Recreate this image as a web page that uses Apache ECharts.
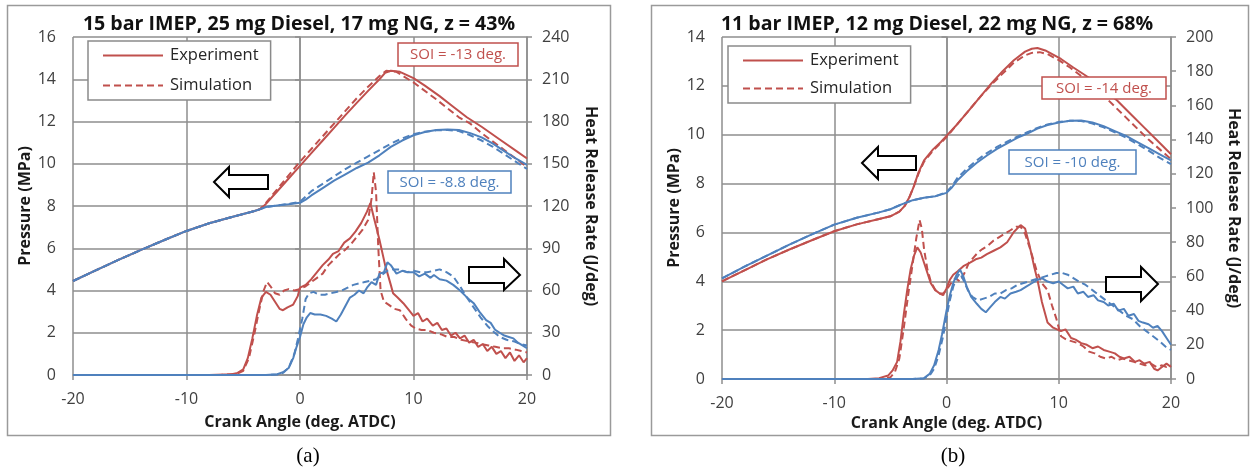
<!DOCTYPE html>
<html>
<head>
<meta charset="utf-8">
<script src="https://cdn.jsdelivr.net/npm/echarts@6/dist/echarts.min.js"></script>
<style>
  html, body { margin: 0; padding: 0; background: #ffffff; }
  #chart { width: 1250px; height: 471px; }
</style>
</head>
<body>
<div id="chart"></div>
<script>
// ---- Panel (a): 15 bar IMEP, 25 mg Diesel, 17 mg NG, z = 43% ----
// Cylinder pressure (MPa) vs crank angle (deg. ATDC)
const aPresExpEarly = [[-20,4.45],[-18,4.95],[-16,5.45],[-14,5.92],[-12,6.38],[-10,6.82],[-8,7.18],[-6,7.48],[-5,7.62],[-4,7.76],[-3.5,7.85],[-3,8.1],[-2,8.7],[-1,9.3],[0,9.9],[1,10.5],[2,11.1],[3,11.7],[4,12.3],[5,12.88],[6,13.45],[7,14.0],[7.5,14.3],[8,14.4],[8.8,14.35],[10,14.05],[11,13.7],[12.3,13.2],[13.5,12.7],[14.7,12.2],[16,11.75],[17.6,11.15],[19.2,10.55],[20,10.25]];
const aPresSimEarly = [[-20,4.45],[-18,4.95],[-16,5.45],[-14,5.92],[-12,6.38],[-10,6.82],[-8,7.18],[-6,7.48],[-5,7.62],[-4,7.76],[-3.5,7.86],[-3,8.15],[-2,8.8],[-1,9.45],[0,10.1],[1,10.7],[2,11.3],[3,11.9],[4,12.5],[5,13.1],[6,13.65],[7,14.15],[7.6,14.4],[8.5,14.35],[10,13.85],[12,13.05],[14,12.2],[15,11.9],[16,11.45],[18,10.65],[20,9.85]];
const aPresExpLate = [[-20,4.45],[-18,4.95],[-16,5.45],[-14,5.92],[-12,6.38],[-10,6.82],[-8,7.18],[-6,7.48],[-5,7.62],[-4,7.76],[-3.5,7.85],[-3,7.95],[-2,8.02],[-1,8.08],[0,8.15],[0.5,8.3],[1,8.5],[2,8.85],[3,9.2],[4,9.5],[5,9.8],[6,10.05],[7,10.4],[8,10.8],[9,11.1],[10,11.35],[11,11.5],[12,11.6],[13,11.62],[14,11.6],[15,11.45],[16,11.25],[17,10.95],[18,10.6],[19,10.25],[20,9.95]];
const aPresSimLate = [[-20,4.45],[-18,4.95],[-16,5.45],[-14,5.92],[-12,6.38],[-10,6.82],[-8,7.18],[-6,7.48],[-5,7.62],[-4,7.76],[-3.5,7.85],[-3,7.95],[-2,8.03],[-1,8.1],[0,8.2],[0.5,8.45],[1,8.7],[2,9.05],[3,9.4],[4,9.75],[5,10.05],[6,10.35],[7,10.65],[8,10.95],[9,11.2],[10,11.4],[11,11.52],[12,11.58],[13,11.6],[14,11.55],[15,11.35],[16,11.1],[17,10.8],[18,10.45],[19,10.1],[20,9.75]];
// Heat release rate (J/deg)
const aHrrExpEarly = [[-20,0],[-8,0],[-6,0.5],[-5.5,1.5],[-5,4],[-4.6,12],[-4.2,26],[-3.8,42],[-3.4,55],[-3.0,59],[-2.6,57],[-2.2,52],[-1.8,47],[-1.5,46],[-1.1,48],[-0.6,50],[-0.2,56],[0,62],[0.5,64],[1,68],[1.5,73],[2,78],[2.5,82],[2.9,86],[3.4,88],[3.9,94],[4.4,97],[4.9,102],[5.4,108],[5.9,116],[6.2,122],[6.5,112],[7.0,96],[7.5,78],[8.0,64],[8.2,58],[8.6,55],[9.1,51],[9.6,46],[10.0,42],[10.4,44],[10.8,38],[11.2,40],[11.7,35],[12.1,37],[12.5,32],[12.9,33],[13.3,28],[13.7,30],[14.1,26],[14.5,28],[14.9,23],[15.3,25],[15.7,20],[16.1,22],[16.5,17],[16.9,20],[17.3,15],[17.7,17],[18.1,12],[18.5,16],[18.9,10],[19.3,14],[19.7,9],[20,12]];
const aHrrSimEarly = [[-20,0],[-7,0],[-5.5,1],[-5,3],[-4.5,12],[-4,30],[-3.6,46],[-3.2,60],[-2.9,66],[-2.6,63],[-2.2,58],[-1.8,57],[-1.4,60],[-1,61],[-0.5,60],[0,61],[0.5,63],[1,66],[1.5,69],[2,72],[2.5,78],[3,82],[3.5,86],[4,89],[4.5,93],[5,98],[5.5,103],[6,110],[6.3,125],[6.5,144],[6.7,130],[6.9,90],[7.1,60],[7.4,52],[7.8,50],[8.3,47],[8.8,46],[9.3,40],[9.8,35],[10.2,33],[10.7,32],[11.2,32],[11.8,30],[12.4,29],[13,27],[13.6,27],[14.2,25],[14.8,24],[15.4,23],[16,22],[16.6,21],[17.2,20],[17.8,19],[18.4,19],[19,18],[19.5,17],[20,16]];
const aHrrExpLate = [[-20,0],[-3,0],[-2,0.5],[-1.5,2],[-1,5],[-0.6,12],[-0.3,20],[0,27],[0.3,36],[0.6,41],[0.9,44],[1.3,43],[1.8,43],[2.3,42],[2.8,40],[3.2,38],[3.6,43],[4,49],[4.4,55],[4.8,57],[5.2,60],[5.6,58],[5.9,62],[6.3,66],[6.7,64],[7.0,72],[7.4,73],[7.7,80],[8.0,78],[8.5,72],[9.0,74],[9.5,73],[10,73],[10.5,70],[11,72],[11.5,69],[11.8,71],[12.3,68],[12.9,67],[13.5,64],[14.1,60],[14.6,56],[15.0,53],[15.3,51],[15.8,45],[16.4,39],[16.8,37],[17.2,32],[17.6,30],[18.0,28],[18.4,27],[18.8,26],[19.2,23],[19.6,21],[20,19]];
const aHrrSimLate = [[-20,0],[-3,0],[-2,0.3],[-1.5,1.5],[-1,5],[-0.5,15],[-0.2,25],[0.2,40],[0.5,54],[0.8,58],[1.2,59],[1.7,57],[2.2,57],[2.7,58],[3.2,59],[3.7,60],[4.2,62],[4.7,64],[5.2,65],[5.7,66],[6.2,67],[6.7,68],[7.2,71],[7.7,74],[8.2,75],[8.8,75],[9.4,73],[10,74],[10.6,73],[11.2,73],[11.8,74],[12.3,75],[12.9,73],[13.5,70],[14.1,63],[14.7,55],[15.3,48],[15.9,41],[16.5,35],[17,31],[17.6,27],[18.2,25],[18.8,24],[19.4,22],[20,21]];

// ---- Panel (b): 11 bar IMEP, 12 mg Diesel, 22 mg NG, z = 68% ----
const bPresExpEarly = [[-20,4.0],[-18,4.45],[-16,4.9],[-14,5.3],[-12,5.68],[-10,6.05],[-8,6.33],[-6,6.55],[-5,6.66],[-4.2,6.85],[-3.7,7.1],[-3.3,7.45],[-2.9,7.9],[-2.5,8.45],[-2,8.95],[-1.2,9.4],[-0.5,9.7],[0,9.95],[1,10.45],[2,11.0],[3,11.55],[4,12.1],[5,12.6],[6,13.05],[7,13.4],[7.6,13.52],[8.1,13.55],[8.8,13.45],[9.5,13.28],[10.2,13.1],[11.3,12.75],[12.8,12.3],[14,11.85],[15.2,11.4],[16.4,10.85],[17.6,10.3],[18.8,9.75],[20,9.2]];
const bPresSimEarly = [[-20,4.0],[-18,4.45],[-16,4.9],[-14,5.3],[-12,5.68],[-10,6.05],[-8,6.33],[-6,6.55],[-5,6.66],[-4.2,6.85],[-3.7,7.1],[-3.3,7.45],[-2.9,7.9],[-2.5,8.4],[-2,8.9],[-1.2,9.35],[0,9.9],[1,10.45],[2,11.0],[3,11.55],[4,12.05],[5,12.5],[6,12.95],[7,13.25],[7.6,13.35],[8.3,13.38],[9,13.3],[10,13.05],[11,12.75],[12,12.4],[13,12.0],[14,11.6],[15,11.15],[16,10.7],[17,10.25],[18,9.8],[19,9.4],[20,9.0]];
const bPresExpLate = [[-20,4.12],[-18,4.6],[-16,5.05],[-14,5.5],[-12,5.92],[-10,6.32],[-8,6.6],[-6,6.82],[-5,6.95],[-4,7.15],[-3,7.32],[-2,7.42],[-1,7.48],[0,7.62],[0.5,7.85],[1,8.15],[1.8,8.5],[2.7,8.85],[3.6,9.15],[4.5,9.42],[5.4,9.65],[6.3,9.87],[7.2,10.05],[8.1,10.25],[9,10.4],[10,10.5],[11,10.57],[12,10.58],[13,10.5],[14,10.35],[15,10.15],[16,9.95],[17,9.7],[18,9.45],[19,9.2],[20,8.95]];
const bPresSimLate = [[-20,4.12],[-18,4.6],[-16,5.05],[-14,5.5],[-12,5.92],[-10,6.32],[-8,6.6],[-6,6.82],[-5,6.95],[-4,7.15],[-3,7.32],[-2,7.42],[-1,7.48],[0,7.65],[0.5,7.9],[1,8.25],[1.8,8.6],[2.7,8.95],[3.6,9.25],[4.5,9.5],[5.4,9.72],[6.3,9.92],[7.2,10.1],[8.1,10.28],[9,10.42],[10,10.52],[11,10.57],[12,10.56],[13,10.46],[14,10.3],[15,10.1],[16,9.88],[17,9.62],[18,9.35],[19,9.05],[20,8.8]];
const bHrrExpEarly = [[-20,0],[-7,0],[-6,0.5],[-5.2,2],[-4.8,5],[-4.4,10],[-4.1,22],[-3.8,38],[-3.5,52],[-3.2,64],[-2.9,72],[-2.6,77],[-2.3,74],[-2.0,68],[-1.7,62],[-1.4,56],[-1.0,52],[-0.6,50],[-0.3,49],[0,53],[0.3,58],[0.6,61],[1.0,63],[1.5,66],[2.1,68],[2.6,70],[3.1,71],[3.6,73],[4.2,75],[4.8,77],[5.4,80],[6.0,86],[6.6,90],[7.0,88],[7.4,78],[7.8,66],[8.1,58],[8.5,45],[9.0,33],[9.5,30],[10.2,28],[10.6,29],[11.1,24],[11.5,23],[12,21],[12.5,20],[13,18],[13.5,19],[14,17],[14.5,16],[15,15],[15.4,13],[15.8,12],[16.3,13],[16.8,10],[17.2,11],[17.6,9],[18.1,10],[18.5,6],[18.8,5],[19.2,7],[19.6,9],[20,7]];
const bHrrSimEarly = [[-20,0],[-6,0],[-5,1],[-4.6,4],[-4.2,12],[-3.8,30],[-3.4,50],[-3.0,68],[-2.7,82],[-2.4,93],[-2.2,88],[-2.0,76],[-1.7,64],[-1.4,57],[-1.0,52],[-0.6,50],[-0.3,50],[0,52],[0.4,56],[0.8,59],[1.2,57],[1.6,62],[2,68],[2.4,71],[2.8,74],[3.2,76],[3.7,78],[4.2,81],[4.7,83],[5.2,85],[5.7,87],[6.2,89],[6.6,89],[7.0,85],[7.5,75],[8.0,64],[8.5,56],[9.0,52],[9.4,43],[9.8,35],[10.2,25],[10.7,23],[11.2,22],[11.7,21],[12.2,19],[12.7,16],[13.2,15],[13.7,13],[14.2,12],[14.7,13],[15.2,11],[15.7,12],[16.2,11],[16.7,10],[17.2,9],[17.7,8],[18.2,9],[18.7,7],[19.2,8],[19.6,7],[20,8]];
const bHrrExpLate = [[-20,0],[-3,0],[-2,0.5],[-1.5,3],[-1.1,8],[-0.7,17],[-0.4,26],[0,40],[0.3,49],[0.6,56],[0.9,61],[1.2,64],[1.5,60],[1.8,54],[2.2,48],[2.7,44],[3.1,41],[3.5,39],[3.9,42],[4.3,45],[4.8,48],[5.2,47],[5.7,50],[6.2,51],[6.6,52],[7.1,54],[7.6,56],[8.1,58],[8.5,59],[9.0,57],[9.5,56],[10.0,57],[10.4,55],[10.8,53],[11.3,54],[11.7,50],[12.2,51],[12.6,48],[13.1,49],[13.5,46],[14.0,45],[14.4,43],[14.9,44],[15.3,40],[15.8,41],[16.2,37],[16.7,38],[17.1,34],[17.5,33],[18.0,32],[18.4,30],[18.8,31],[19.2,28],[19.6,24],[20,20]];
const bHrrSimLate = [[-20,0],[-3,0],[-2,0.3],[-1.5,2],[-1.1,6],[-0.7,14],[-0.3,25],[0,36],[0.3,46],[0.6,54],[0.9,59],[1.2,62],[1.5,58],[1.9,52],[2.3,48],[2.8,46],[3.3,47],[3.8,48],[4.3,50],[4.8,50],[5.3,52],[5.8,53],[6.3,55],[6.8,56],[7.3,57],[7.8,58],[8.3,59],[8.8,60],[9.3,61],[9.8,62],[10.3,62],[10.8,61],[11.3,59],[11.8,57],[12.4,55],[13,52],[13.6,49],[14.2,46],[14.8,43],[15.4,40],[16,37],[16.6,35],[17.2,31],[17.8,28],[18.4,25],[19,22],[19.5,19],[20,17]];

// Texts
const panelTitles = ['15 bar IMEP, 25 mg Diesel, 17 mg NG, z = 43%', '11 bar IMEP, 12 mg Diesel, 22 mg NG, z = 68%'];
const soiLabelsA = ['SOI = -13 deg.', 'SOI = -8.8 deg.'];
const soiLabelsB = ['SOI = -14 deg.', 'SOI = -10 deg.'];
const legendNames = ['Experiment', 'Simulation'];
const captions = ['(a)', '(b)'];
const xAxisName = 'Crank Angle (deg. ATDC)';
const yLeftName = 'Pressure (MPa)';
const yRightName = 'Heat Release Rate (J/deg)';

const RED = '#c0504d';
const BLUE = '#4f81bd';
const GRID = '#8e8e8e';
const FONT = '"Open Sans", "Noto Sans", sans-serif';
const TICK_TEXT = '#404040';

function lineSeries(name, data, color, dashed, xi, yi) {
  return {
    name: name, type: 'line', data: data,
    xAxisIndex: xi, yAxisIndex: yi,
    symbol: 'none', smooth: false, animation: false,
    lineStyle: { color: color, width: 2, type: dashed ? [7, 4] : 'solid' },
    itemStyle: { color: color }
  };
}

function xAxisFor(gridIndex, gap) {
  return {
    type: 'value', gridIndex: gridIndex, min: -20, max: 20, interval: 10,
    name: xAxisName, nameLocation: 'middle', nameGap: gap,
    nameTextStyle: { fontFamily: FONT, fontWeight: 'bold', fontSize: 16, color: '#1a1a1a' },
    axisLine: { show: true, onZero: false, lineStyle: { color: GRID, width: 1.5 } },
    axisTick: { show: true, length: 5, lineStyle: { color: GRID, width: 1.5 } },
    axisLabel: { fontFamily: FONT, fontSize: 16, color: TICK_TEXT, margin: 16 },
    splitLine: { show: true, lineStyle: { color: GRID, width: 1.5 } }
  };
}

function yAxisFor(gridIndex, pos, max, interval, name, gap, split) {
  return {
    type: 'value', gridIndex: gridIndex, position: pos, min: 0, max: max, interval: interval,
    name: name, nameLocation: 'middle', nameGap: gap, nameRotate: pos === 'left' ? 90 : -90,
    nameTextStyle: { fontFamily: FONT, fontWeight: 'bold', fontSize: 16, color: '#1a1a1a' },
    axisLine: { show: true, lineStyle: { color: GRID, width: 1.5 } },
    axisTick: { show: true, length: 5, lineStyle: { color: GRID, width: 1.5 } },
    axisLabel: { fontFamily: FONT, fontSize: 16, color: TICK_TEXT, margin: pos === 'left' ? 17 : 15 },
    splitLine: { show: split, lineStyle: { color: GRID, width: 1.5 } }
  };
}

function legendAt(left, top, gap) {
  return {
    data: legendNames, orient: 'vertical', left: left, top: top,
    itemWidth: 60, itemHeight: 14, itemGap: gap,
    padding: [6, 12, 6, 14],
    borderColor: '#8a8a8a', borderWidth: 1.5, backgroundColor: '#ffffff',
    selectedMode: false,
    itemStyle: { opacity: 0 },
    textStyle: { fontFamily: FONT, fontSize: 16.5, color: '#262626', padding: [0, 0, 0, 2] }
  };
}

function blockArrow(points) {
  return {
    type: 'polygon', shape: { points: points },
    style: { fill: '#ffffff', stroke: '#000000', lineWidth: 2 }, z: 50
  };
}

function soiBox(x, y, w, h, text, color) {
  return [
    { type: 'rect', shape: { x: x, y: y, width: w, height: h },
      style: { fill: '#ffffff', stroke: color, lineWidth: 1.5 }, z: 50 },
    { type: 'text', x: x + w / 2, y: y + h / 2 + 0.5, z: 51,
      style: { text: text, fill: color, font: '15px ' + FONT, textAlign: 'center', textVerticalAlign: 'middle' } }
  ];
}

const chart = echarts.init(document.getElementById('chart'), null, { renderer: 'canvas' });

const option = {
  backgroundColor: '#ffffff',
  animation: false,
  grid: [
    { left: 73, top: 37, width: 454, height: 338 },
    { left: 722, top: 37, width: 449, height: 342 }
  ],
  xAxis: [xAxisFor(0, 39), xAxisFor(1, 36)],
  yAxis: [
    yAxisFor(0, 'left', 16, 2, yLeftName, 40, true),
    yAxisFor(0, 'right', 240, 30, yRightName, 56, false),
    yAxisFor(1, 'left', 14, 2, yLeftName, 39, true),
    yAxisFor(1, 'right', 200, 20, yRightName, 55, false)
  ],
  legend: [legendAt(88, 41, 13), legendAt(728, 46, 11)],
  series: [
    lineSeries('Experiment', aPresExpEarly, RED, false, 0, 0),
    lineSeries('Simulation', aPresSimEarly, RED, true, 0, 0),
    lineSeries('Experiment', aPresExpLate, BLUE, false, 0, 0),
    lineSeries('Simulation', aPresSimLate, BLUE, true, 0, 0),
    lineSeries('Experiment', aHrrExpEarly, RED, false, 0, 1),
    lineSeries('Simulation', aHrrSimEarly, RED, true, 0, 1),
    lineSeries('Experiment', aHrrExpLate, BLUE, false, 0, 1),
    lineSeries('Simulation', aHrrSimLate, BLUE, true, 0, 1),
    lineSeries('Experiment', bPresExpEarly, RED, false, 1, 2),
    lineSeries('Simulation', bPresSimEarly, RED, true, 1, 2),
    lineSeries('Experiment', bPresExpLate, BLUE, false, 1, 2),
    lineSeries('Simulation', bPresSimLate, BLUE, true, 1, 2),
    lineSeries('Experiment', bHrrExpEarly, RED, false, 1, 3),
    lineSeries('Simulation', bHrrSimEarly, RED, true, 1, 3),
    lineSeries('Experiment', bHrrExpLate, BLUE, false, 1, 3),
    lineSeries('Simulation', bHrrSimLate, BLUE, true, 1, 3)
  ],
  graphic: [
    // panel frames
    { type: 'rect', shape: { x: 7.5, y: 5.5, width: 603, height: 430 },
      style: { fill: 'none', stroke: '#9a9a9a', lineWidth: 1.5 }, z: -1 },
    { type: 'rect', shape: { x: 651.5, y: 5.5, width: 597, height: 430 },
      style: { fill: 'none', stroke: '#9a9a9a', lineWidth: 1.5 }, z: -1 },
    // titles
    { type: 'text', x: 299, y: 24, style: { text: panelTitles[0], fill: '#111111',
      font: 'bold 19.6px ' + FONT, textAlign: 'center', textVerticalAlign: 'middle' } },
    { type: 'text', x: 937, y: 24, style: { text: panelTitles[1], fill: '#111111',
      font: 'bold 19.6px ' + FONT, textAlign: 'center', textVerticalAlign: 'middle' } },
    // direction arrows: pressure to the left axis, heat release to the right axis
    blockArrow([[214, 182], [229, 167], [229, 175], [268, 175], [268, 189], [229, 189], [229, 197]]),
    blockArrow([[469, 267], [504, 267], [504, 259], [520, 275], [504, 290], [504, 283], [469, 283]]),
    blockArrow([[862, 163], [878, 147], [878, 156], [916, 156], [916, 170], [878, 170], [878, 179]]),
    blockArrow([[1106, 277], [1141, 277], [1141, 267], [1158, 284], [1141, 301], [1141, 292], [1106, 292]]),
    // injection timing labels
    ...soiBox(398, 43, 120, 23, soiLabelsA[0], RED),
    ...soiBox(388, 171, 123, 22, soiLabelsA[1], BLUE),
    ...soiBox(1042, 77, 124, 22, soiLabelsB[0], RED),
    ...soiBox(1009, 150, 127, 24, soiLabelsB[1], BLUE),
    // sub-figure captions
    { type: 'text', x: 308, y: 456, style: { text: captions[0], fill: '#000000',
      font: '21px "Liberation Serif", "DejaVu Serif", serif', textAlign: 'center', textVerticalAlign: 'middle' } },
    { type: 'text', x: 953, y: 456, style: { text: captions[1], fill: '#000000',
      font: '21px "Liberation Serif", "DejaVu Serif", serif', textAlign: 'center', textVerticalAlign: 'middle' } }
  ]
};

chart.setOption(option);
</script>
</body>
</html>
